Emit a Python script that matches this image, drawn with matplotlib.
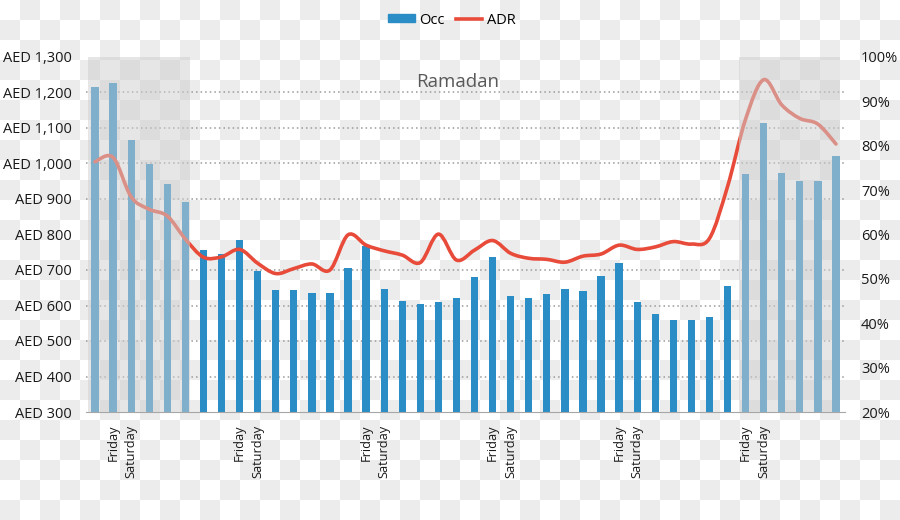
import numpy as np
import matplotlib
matplotlib.use("Agg")
from matplotlib import pyplot as plt
from matplotlib.colors import ListedColormap
from matplotlib.path import Path
from matplotlib.patches import PathPatch, Patch
from matplotlib.lines import Line2D

plt.rcParams['font.family'] = ['Open Sans', 'DejaVu Sans']

# occupancy (%) per day
occ = [93.2, 94.1, 81.2, 75.8, 71.3, 67.4,
       56.5, 55.5, 58.8, 51.8, 47.4, 47.4, 46.9, 46.9, 52.5, 57.4,
       47.7, 45.0, 44.3, 44.9, 45.7, 50.5, 54.9, 46.1, 45.7, 46.6,
       47.8, 47.3, 50.7, 53.6, 44.9,
       42.0, 40.7, 40.8, 41.4, 48.5,
       73.6, 85.1, 73.8, 72.1, 72.0, 77.6]
# average daily rate (AED) per day
adr = [1005, 1017, 906, 871, 852, 787,
       736, 737, 758, 719, 690, 704, 717, 700, 799, 770,
       754, 742, 721, 801, 728, 756, 783, 747, 733, 730,
       722, 739, 745, 770, 758,
       765, 780, 773, 789, 935,
       1125, 1236, 1165, 1127, 1111, 1055]
weekend_days = ["Friday", "Saturday"]
friday_idx = [1, 8, 15, 22, 29, 36]
adr_ticks = list(range(300, 1301, 100))
occ_ticks = list(range(20, 101, 10))
ramadan_spans = [(-0.4, 5.25), (35.65, 41.25)]

blue = '#2a8dc5'
red = '#e84b3a'

fig = plt.figure(figsize=(9, 5.2), dpi=100)

# checkerboard backdrop (transparent png look)
bg = fig.add_axes([0, 0, 1, 1], zorder=-10)
board = np.add.outer(np.arange(26), np.arange(45)) % 2
bg.imshow(board, cmap=ListedColormap(['white', '#ececec']), interpolation='nearest',
          aspect='auto', extent=(0, 900, 520, 0))
bg.axis('off')

ax = fig.add_axes([86/900, 108/520, 759/900, 355/520])
ax.set_facecolor('none')
ax2 = ax.twinx()

x = np.arange(len(occ))
ax.bar(x, occ, width=0.4, color=blue, zorder=2)
ax.set_xlim(-0.5, len(occ) - 0.5)
ax.set_ylim(20, 100)
ax.yaxis.tick_right()
ax.set_yticks(occ_ticks)
ax.set_yticklabels([f'{v}%' for v in occ_ticks])
# dotted grid follows the AED scale
ax.set_yticks(np.linspace(20, 100, len(adr_ticks)), minor=True)
ax.grid(which='minor', axis='y', color='#9a9a9a', lw=1.1, ls=(0, (1, 2)))
ax.set_axisbelow(True)
ax.tick_params(axis='y', which='both', length=0, pad=11.5, labelsize=10.5, colors='#1a1a1a')

xt, xl = [], []
for f in friday_idx:
    xt += [f, f + 1]
    xl += weekend_days
ax.set_xticks(xt)
ax.set_xticklabels(xl, rotation=90, fontsize=9.2, va='top', ha='center')
ax.tick_params(axis='x', length=0, pad=9, colors='#1a1a1a')
for s in ['left', 'right', 'top']:
    ax.spines[s].set_visible(False)
ax.spines['bottom'].set_color('#a6a6a6')
ax.spines['bottom'].set_zorder(4)

ax2.set_ylim(300, 1300)
ax2.set_xlim(-0.5, len(occ) - 0.5)
ax2.yaxis.tick_left()
ax2.set_yticks(adr_ticks)
ax2.set_yticklabels([f'AED {v:,}' for v in adr_ticks])
ax2.tick_params(axis='y', length=0, pad=10, labelsize=10.5, colors='#1a1a1a')
for s in ax2.spines.values():
    s.set_visible(False)

# smoothed ADR line (bezier through each day)
pts = np.column_stack([x, adr]).astype(float)
verts, codes = [pts[0]], [Path.MOVETO]
n = len(pts)
for k in range(n - 1):
    p0, p1, p2, p3 = pts[max(k - 1, 0)], pts[k], pts[k + 1], pts[min(k + 2, n - 1)]
    verts += [p1 + (p2 - p0) / 6, p2 - (p3 - p1) / 6, p2]
    codes += [Path.CURVE4] * 3
ax2.add_patch(PathPatch(Path(verts, codes), facecolor='none', edgecolor=red,
                        lw=2.6, capstyle='round', zorder=3))

for a, b in ramadan_spans:
    ax2.axvspan(a, b, color='#cfcfcf', alpha=0.52, lw=0, zorder=5)
ax2.text(20.08, 1216, 'Ramadan', ha='center', va='baseline', fontsize=13.5,
         color='#595959', zorder=6)

handles = [Patch(color=blue), Line2D([], [], color=red, lw=2.6)]
fig.legend(handles, ['Occ', 'ADR'], loc='center', bbox_to_anchor=(452/900, 1 - 20/520),
           ncol=2, frameon=False, fontsize=10.5, handlelength=1.8, handleheight=0.5,
           handletextpad=0.3, columnspacing=0.8)

fig.savefig('out.png', dpi=100)
